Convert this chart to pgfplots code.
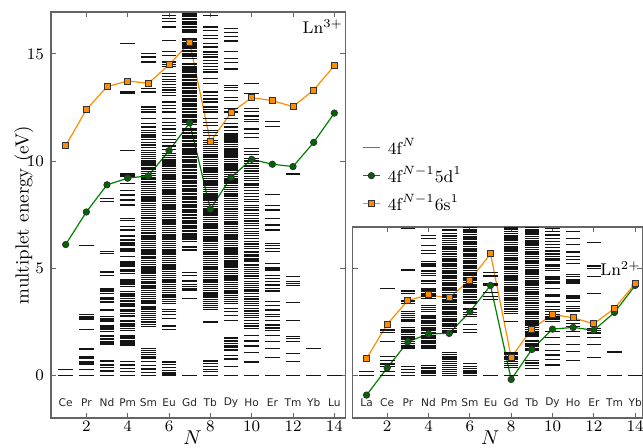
\documentclass[border=0pt]{standalone}
\usepackage{pgfplots}
\pgfplotsset{compat=1.18}
\usepackage{fontspec}
\newfontfamily\dejavu{DejaVu Sans}
\definecolor{lnorange}{RGB}{255,140,0}
\definecolor{lngreen}{RGB}{0,128,0}
\definecolor{lngreenf}{RGB}{0,100,0}
\definecolor{framegray}{RGB}{100,100,100}
\pgfplotsset{
  lev/.style={only marks, mark=-, mark size=3.65pt, mark options={line width=0.62pt, draw=black!92}, forget plot},
  dd/.style={lngreen, line width=0.6pt, mark=*, mark size=1.6pt, mark options={fill=lngreenf, draw=black!80, line width=0.4pt}},
  ss/.style={lnorange, line width=0.6pt, mark=square*, mark size=1.5pt, mark options={fill=lnorange, draw=black!80, line width=0.4pt}},
  base/.style={scale only axis, axis line style={framegray, line width=0.6pt}, tick style={framegray, line width=0.5pt},
    tick align=inside, major tick length=2.5pt, ymin=-2, xtick={2,4,...,14},
    ticklabel style={font=\fontsize{8}{9}\selectfont}, xticklabel style={yshift=1.8pt}, xlabel={$N$},
    xlabel style={font=\fontsize{10}{11}\selectfont, anchor=center}}
}
\newcommand{\lev}[2]{\addplot[lev] table[x expr=#1, y index=0, header=false, row sep=\\]{#2};}
\newcommand{\el}[2]{\node[font=\dejavu\fontsize{5.3}{6}\selectfont, text=black!85] at (axis cs:#1,-1.3) {#2};}
\begin{document}
\begin{tikzpicture}
\useasboundingbox (0,0) rectangle (321.5pt,224pt);
\begin{axis}[base, at={(25.5pt,15pt)}, anchor=south west, width=147.15pt, height=203pt,
  xmin=0.29, xmax=14.53, ymax=16.96, ytick={0,5,10,15},
  ylabel={multiplet energy (eV)},
  ylabel style={at={(rel axis cs:-0.092,0.5)}, anchor=center, font=\fontsize{9.5}{11}\selectfont},
  xlabel style={at={(rel axis cs:0.481,-0.049)}},
  legend style={at={(rel axis cs:1.056,0.70)}, anchor=north west, draw=none, fill=none,
    font=\fontsize{8.6}{9.5}\selectfont, row sep=0.6pt, column sep=1.6pt, cells={anchor=west}, inner sep=0pt},
  legend image code/.code={\draw[mark repeat=2,mark phase=2,#1] plot coordinates {(0pt,0pt) (4.2pt,0pt) (8.4pt,0pt)};}
]
\addlegendimage{black!55, line width=0.8pt}
\addlegendentry{4f$^{N}$}
\lev{1}{0\\0.28\\}
\lev{2}{0\\0.27\\0.52\\0.62\\0.80\\0.88\\1.22\\2.12\\2.60\\2.66\\2.72\\2.83\\6.05\\}
\lev{3}{0\\0.2\\0.37\\0.48\\0.66\\1.42\\1.5\\1.58\\1.65\\1.72\\1.8\\1.86\\2.05\\2.12\\2.2\\2.3\\2.5\\2.58\\2.66\\2.75\\3.04\\3.38\\3.45\\3.52\\3.6\\3.82\\3.9\\3.98\\4.06\\4.67\\4.78\\4.85\\5.69\\5.79\\8.1\\8.25\\}
\lev{4}{0\\0.16\\0.31\\0.47\\0.65\\1.40\\1.46\\1.52\\1.58\\1.63\\1.70\\1.76\\1.82\\1.87\\2.10\\2.18\\2.26\\2.34\\2.42\\2.50\\2.57\\2.73\\2.80\\2.88\\2.96\\3.04\\3.20\\3.28\\3.36\\3.44\\3.50\\3.58\\3.66\\3.74\\3.82\\3.89\\4.13\\4.22\\4.30\\4.38\\4.44\\4.75\\4.85\\4.91\\5.06\\5.14\\5.22\\5.29\\5.53\\5.76\\5.84\\5.92\\6.04\\6.12\\6.20\\6.31\\6.47\\6.54\\6.78\\6.93\\7.24\\7.32\\7.95\\8.18\\8.41\\8.62\\8.96\\9.27\\9.35\\9.43\\10.48\\13.18\\13.25\\15.48\\}
\lev{5}{0\\0.13\\0.29\\0.45\\0.63\\0.8\\0.87\\0.95\\1.05\\1.15\\1.25\\2.27\\2.36\\2.45\\2.52\\2.61\\2.70\\2.78\\2.88\\2.97\\3.05\\3.14\\3.22\\3.33\\3.42\\3.50\\3.58\\3.68\\3.77\\3.86\\3.94\\4.03\\4.12\\4.20\\4.30\\4.38\\4.47\\4.55\\4.64\\4.74\\4.82\\4.91\\5.00\\5.08\\5.18\\5.27\\5.35\\5.44\\5.52\\5.62\\5.71\\5.80\\5.88\\5.97\\6.06\\6.15\\6.24\\6.33\\6.41\\6.50\\6.60\\6.68\\6.77\\6.86\\6.94\\7.03\\7.12\\7.21\\7.30\\7.38\\7.47\\7.56\\7.66\\7.74\\7.83\\7.92\\8.00\\8.10\\8.18\\8.27\\8.36\\8.45\\8.53\\8.62\\8.72\\8.80\\8.89\\8.98\\9.06\\9.16\\9.24\\9.33\\9.42\\9.51\\9.60\\9.68\\9.78\\9.86\\9.95\\10.04\\10.12\\10.22\\10.30\\10.40\\10.50\\10.62\\10.75\\10.88\\11.00\\11.12\\11.22\\11.32\\11.43\\11.59\\11.74\\11.98\\12.29\\12.40\\12.52\\13.22\\13.38\\14.63\\14.86\\15.02\\}
\lev{6}{0\\0.05\\0.12\\0.23\\0.36\\0.49\\0.62\\2.14\\2.30\\2.65\\2.82\\2.96\\3.05\\3.35\\3.44\\3.52\\3.61\\3.70\\3.78\\3.87\\3.96\\4.05\\4.14\\4.22\\4.31\\4.40\\4.48\\4.57\\4.66\\4.75\\4.84\\4.92\\5.01\\5.10\\5.18\\5.27\\5.36\\5.45\\5.54\\5.62\\5.71\\5.80\\5.88\\5.97\\6.06\\6.15\\6.24\\6.32\\6.41\\6.50\\6.58\\6.67\\6.76\\6.85\\6.94\\7.02\\7.11\\7.20\\7.28\\7.37\\7.46\\7.55\\7.64\\7.72\\7.81\\7.90\\7.98\\8.07\\8.16\\8.25\\8.34\\8.42\\8.51\\8.60\\8.68\\8.77\\8.86\\8.95\\9.04\\9.12\\9.21\\9.30\\9.38\\9.47\\9.56\\9.65\\9.74\\9.82\\9.91\\10.00\\10.08\\10.17\\10.26\\10.35\\10.55\\10.70\\10.85\\11.0\\11.2\\11.35\\11.5\\11.65\\11.8\\11.98\\12.29\\12.45\\12.6\\12.76\\13.07\\13.2\\13.32\\13.45\\13.58\\13.7\\13.82\\13.95\\14.08\\14.4\\14.52\\14.63\\14.94\\15.1\\15.64\\16.26\\16.5\\16.65\\16.8\\}
\lev{7}{0\\3.57\\3.98\\4.06\\4.15\\4.25\\4.4\\4.67\\4.8\\5.85\\5.98\\6.23\\6.32\\6.40\\6.47\\6.55\\6.62\\6.70\\6.77\\6.85\\6.92\\7.00\\7.07\\7.15\\7.22\\7.30\\7.37\\7.45\\7.52\\7.60\\7.67\\7.75\\7.82\\7.90\\7.97\\8.05\\8.12\\8.20\\8.27\\8.35\\8.42\\8.50\\8.57\\8.65\\8.72\\8.80\\8.87\\8.95\\9.02\\9.10\\9.17\\9.25\\9.32\\9.40\\9.47\\9.55\\9.62\\9.70\\9.77\\9.85\\9.92\\10.00\\10.07\\10.15\\10.22\\10.30\\10.37\\10.45\\10.52\\10.60\\10.67\\10.75\\10.82\\10.90\\10.97\\11.05\\11.12\\11.20\\11.27\\11.35\\11.42\\11.50\\11.72\\11.80\\11.87\\11.95\\12.02\\12.10\\12.17\\12.25\\12.32\\12.40\\12.47\\12.55\\12.62\\12.70\\12.77\\12.85\\12.92\\13.00\\13.07\\13.15\\13.22\\13.30\\13.37\\13.45\\13.52\\13.60\\13.67\\13.75\\13.82\\13.90\\13.97\\14.05\\14.12\\14.20\\14.27\\14.35\\14.42\\14.50\\14.57\\14.80\\14.87\\14.95\\15.02\\15.10\\15.17\\15.25\\15.32\\15.40\\15.47\\15.55\\15.62\\15.70\\16.00\\16.07\\16.15\\16.22\\16.30\\16.37\\16.45\\16.52\\16.60\\16.67\\16.75\\16.82\\16.90\\}
\lev{8}{0\\0.16\\0.28\\0.41\\0.53\\0.66\\2.48\\3.08\\3.16\\3.25\\3.35\\3.44\\3.52\\3.61\\3.70\\3.79\\3.87\\3.96\\4.05\\4.13\\4.22\\4.31\\4.40\\4.48\\4.57\\4.66\\4.74\\4.83\\4.92\\5.00\\5.09\\5.18\\5.27\\5.35\\5.44\\5.53\\5.62\\5.70\\5.79\\5.88\\5.96\\6.05\\6.14\\6.23\\6.31\\6.40\\6.49\\6.57\\6.66\\6.75\\6.84\\6.92\\7.01\\7.10\\7.18\\7.27\\7.36\\7.45\\7.53\\7.62\\7.71\\7.80\\7.88\\7.97\\8.06\\8.14\\8.23\\8.32\\8.41\\8.49\\8.58\\8.67\\8.75\\8.84\\8.93\\9.02\\9.10\\9.19\\9.28\\9.36\\9.45\\9.54\\9.63\\9.71\\9.80\\9.89\\9.97\\10.06\\10.15\\10.24\\10.32\\10.41\\10.50\\10.58\\10.67\\10.76\\10.85\\10.95\\11.2\\11.32\\11.43\\11.67\\11.8\\11.98\\12.29\\12.4\\12.52\\12.76\\12.9\\13.05\\13.22\\13.61\\13.85\\14.16\\14.28\\14.4\\14.55\\14.7\\14.86\\14.98\\15.09\\15.33\\15.48\\15.72\\15.87\\16.1\\16.26\\16.8\\}
\lev{9}{0\\0.42\\0.75\\0.93\\1.17\\1.32\\1.40\\1.48\\1.56\\1.63\\1.74\\2.57\\2.80\\2.96\\3.11\\3.36\\3.45\\3.53\\3.62\\3.71\\3.80\\3.88\\3.97\\4.06\\4.14\\4.23\\4.32\\4.41\\4.49\\4.58\\4.67\\4.75\\4.84\\4.93\\5.02\\5.10\\5.19\\5.28\\5.36\\5.45\\5.54\\5.63\\5.71\\5.80\\5.89\\5.97\\6.06\\6.15\\6.24\\6.32\\6.41\\6.50\\6.58\\6.67\\6.76\\6.85\\6.93\\7.02\\7.11\\7.19\\7.28\\7.37\\7.46\\7.54\\7.63\\7.72\\7.80\\7.89\\7.98\\8.07\\8.15\\8.24\\8.33\\8.41\\8.50\\8.59\\8.68\\8.76\\8.85\\8.94\\9.02\\9.11\\9.20\\9.29\\9.37\\9.46\\9.55\\9.63\\9.72\\9.81\\9.90\\9.98\\10.07\\10.16\\10.24\\10.33\\10.42\\10.51\\10.59\\10.68\\10.77\\10.85\\10.94\\11.03\\11.12\\11.22\\11.30\\11.43\\11.59\\11.75\\11.98\\12.29\\12.44\\12.83\\12.98\\13.3\\13.42\\13.53\\14.3\\14.6\\14.8\\15.1\\15.6\\15.8\\16.0\\16.2\\}
\lev{10}{0\\0.62\\1.06\\1.36\\1.6\\1.87\\2.18\\2.3\\2.41\\2.55\\2.68\\2.78\\2.88\\3.0\\3.11\\3.25\\3.36\\3.45\\3.56\\3.66\\3.8\\3.89\\3.98\\4.08\\4.18\\4.27\\4.36\\4.5\\4.6\\4.67\\4.76\\4.85\\4.94\\5.04\\5.14\\5.3\\5.38\\5.46\\5.54\\5.61\\5.75\\5.92\\6.02\\6.12\\6.23\\6.38\\6.54\\6.63\\6.72\\6.85\\7.0\\7.1\\7.2\\7.32\\7.45\\7.55\\7.71\\7.82\\7.94\\8.1\\8.22\\8.35\\8.49\\8.64\\8.76\\8.88\\8.96\\9.1\\9.19\\9.27\\9.42\\9.54\\9.66\\9.77\\9.89\\10.0\\10.13\\10.3\\10.44\\10.6\\11.1\\11.3\\11.5\\11.83\\11.95\\12.1\\12.3\\12.44\\13.15\\13.63\\}
\lev{11}{0\\0.83\\1.25\\1.56\\1.87\\2.1\\2.2\\2.34\\2.57\\2.73\\2.85\\3.04\\3.27\\3.43\\3.89\\3.97\\4.05\\4.21\\4.36\\4.52\\4.67\\4.91\\5.01\\5.22\\5.76\\5.92\\6.07\\6.15\\6.78\\7.01\\7.32\\7.71\\7.94\\8.44\\11.6\\11.85\\}
\lev{12}{0\\0.63\\1.02\\1.56\\1.72\\1.8\\2.57\\3.38\\4.18\\4.29\\4.36\\4.6\\9.39\\}
\lev{13}{0\\1.26\\}
\lev{14}{0\\}
\addplot[dd] coordinates {(1,6.1)(2,7.62)(3,8.89)(4,9.2)(5,9.31)(6,10.48)(7,11.78)(8,7.76)(9,9.24)(10,10.08)(11,9.85)(12,9.74)(13,10.87)(14,12.24)};
\addlegendentry{4f$^{N-1}$5d$^1$}
\addplot[ss] coordinates {(1,10.72)(2,12.40)(3,13.47)(4,13.74)(5,13.63)(6,14.5)(7,15.53)(8,10.9)(9,12.26)(10,12.96)(11,12.82)(12,12.54)(13,13.32)(14,14.45)};
\addlegendentry{4f$^{N-1}$6s$^1$}
\el{1}{Ce}\el{2}{Pr}\el{3}{Nd}\el{4}{Pm}\el{5}{Sm}\el{6}{Eu}\el{7}{Gd}
\el{8}{Tb}\el{9}{Dy}\el{10}{Ho}\el{11}{Er}\el{12}{Tm}\el{13}{Yb}\el{14}{Lu}
\node[anchor=north east, font=\fontsize{8.5}{10}\selectfont, inner sep=0pt] at (rel axis cs:0.993,0.982) {Ln$^{3+}$};
\end{axis}
\begin{axis}[base, at={(176.35pt,15pt)}, anchor=south west, width=144.85pt, height=95.5pt,
  xmin=0.33, xmax=14.35, ymax=6.92, ytick={0,5}, yticklabels={},
  xlabel style={at={(rel axis cs:0.475,-0.104)}}]
\lev{1}{0\\0.18\\}
\lev{2}{0\\0.18\\0.39\\0.52\\0.7\\0.88\\1.58\\1.98\\2.08\\2.15\\4.05\\}
\lev{3}{0\\0.12\\0.27\\0.4\\1.25\\1.32\\1.4\\1.48\\1.56\\1.66\\1.74\\1.82\\1.9\\1.98\\2.06\\2.14\\2.22\\2.5\\2.58\\2.7\\2.78\\2.88\\2.96\\3.35\\3.43\\3.5\\3.82\\3.9\\3.97\\4.88\\4.94\\6.85\\}
\lev{4}{0\\0.1\\0.2\\0.33\\0.44\\1.25\\1.32\\1.4\\1.47\\1.55\\1.62\\1.7\\1.78\\1.85\\1.93\\2.0\\2.08\\2.16\\2.24\\2.32\\2.4\\2.48\\2.56\\2.64\\2.72\\2.8\\2.96\\3.06\\3.16\\3.27\\3.58\\3.66\\3.74\\3.82\\3.9\\3.98\\4.05\\4.28\\4.36\\4.43\\4.67\\4.75\\4.83\\4.9\\5.07\\5.15\\5.22\\5.3\\5.68\\5.84\\6.07\\6.39\\6.54\\}
\lev{5}{0\\0.08\\0.16\\0.25\\0.35\\0.45\\0.55\\0.65\\0.75\\0.85\\0.95\\1.05\\2.02\\2.1\\2.18\\2.26\\2.34\\2.42\\2.5\\2.58\\2.66\\2.74\\2.82\\2.9\\2.98\\3.06\\3.14\\3.22\\3.3\\3.38\\3.46\\3.54\\3.62\\3.7\\3.78\\3.86\\3.94\\4.02\\4.1\\4.18\\4.26\\4.34\\4.42\\4.5\\4.58\\4.66\\4.74\\4.82\\4.9\\4.98\\5.06\\5.14\\5.22\\5.3\\5.38\\5.46\\5.54\\5.62\\5.7\\5.78\\5.86\\5.94\\6.02\\6.1\\6.2\\6.3\\6.4\\6.5\\6.62\\6.78\\}
\lev{6}{0\\0.1\\0.2\\0.3\\0.42\\0.54\\1.98\\2.14\\2.36\\2.74\\2.84\\2.94\\3.06\\3.13\\3.37\\3.45\\3.53\\3.61\\3.69\\3.77\\3.85\\3.93\\4.01\\4.09\\4.17\\4.25\\4.33\\4.41\\4.49\\4.57\\4.65\\4.73\\4.81\\4.89\\4.97\\5.05\\5.13\\5.21\\5.29\\5.37\\5.45\\5.53\\5.61\\5.69\\5.77\\5.85\\5.93\\6.01\\6.09\\6.17\\6.25\\6.33\\6.41\\6.49\\6.57\\6.65\\6.73\\6.81\\6.89\\}
\lev{7}{0\\3.54\\3.66\\3.85\\4.21\\4.28\\4.63\\4.78\\}
\lev{8}{0\\0.35\\0.45\\0.55\\0.65\\0.75\\0.85\\0.95\\1.03\\2.49\\2.88\\2.96\\3.05\\3.13\\3.22\\3.30\\3.39\\3.47\\3.56\\3.64\\3.73\\3.81\\3.90\\3.98\\4.07\\4.15\\4.24\\4.32\\4.41\\4.49\\4.58\\4.66\\4.75\\4.83\\4.92\\5.00\\5.09\\5.17\\5.26\\5.34\\5.43\\5.51\\5.60\\5.68\\5.77\\5.85\\5.94\\6.02\\6.11\\6.19\\6.28\\6.36\\6.45\\6.53\\6.62\\6.70\\6.79\\6.87\\}
\lev{9}{0\\0.31\\0.46\\0.57\\0.7\\1.17\\1.25\\1.33\\1.41\\1.49\\1.56\\1.63\\1.80\\1.88\\1.97\\2.05\\2.14\\2.22\\2.31\\2.39\\2.48\\2.56\\2.65\\2.73\\2.82\\2.90\\2.99\\3.07\\3.16\\3.24\\3.33\\3.41\\3.50\\3.58\\3.67\\3.75\\3.84\\3.92\\4.01\\4.09\\4.18\\4.26\\4.35\\4.43\\4.52\\4.60\\4.69\\4.77\\4.86\\4.94\\5.03\\5.11\\5.20\\5.28\\5.37\\5.45\\5.54\\5.62\\5.71\\5.79\\5.88\\5.96\\6.05\\6.13\\6.22\\6.30\\6.39\\6.47\\6.56\\6.64\\6.73\\6.81\\6.89\\}
\lev{10}{0\\0.47\\0.72\\0.94\\1.15\\1.45\\1.76\\2.05\\2.5\\2.62\\2.72\\2.82\\2.96\\3.08\\3.2\\3.42\\3.66\\3.74\\4.05\\4.3\\4.38\\4.46\\4.54\\4.6\\4.9\\4.98\\5.06\\5.14\\5.38\\5.46\\5.54\\5.62\\5.7\\5.78\\5.84\\5.95\\6.1\\6.25\\6.4\\6.55\\6.7\\6.85\\}
\lev{11}{0\\0.68\\1.1\\1.42\\1.82\\2.05\\2.28\\2.4\\2.55\\3.0\\3.1\\3.2\\3.45\\3.6\\3.7\\4.3\\4.38\\4.45\\4.62\\4.7\\5.23\\5.4\\5.55\\5.75\\6.1\\6.4\\6.7\\}
\lev{12}{0\\0.84\\1.42\\1.75\\1.97\\2.1\\2.18\\3.8\\4.62\\4.98\\5.1\\6.2\\}
\lev{13}{0\\1.08\\}
\lev{14}{0\\}
\addplot[dd] coordinates {(1,-0.93)(2,0.34)(3,1.56)(4,1.93)(5,1.95)(6,2.96)(7,4.19)(8,-0.2)(9,1.2)(10,2.15)(11,2.23)(12,2.1)(13,2.93)(14,4.19)};
\addplot[ss] coordinates {(1,0.78)(2,2.38)(3,3.49)(4,3.75)(5,3.61)(6,4.44)(7,5.67)(8,0.83)(9,2.16)(10,2.84)(11,2.68)(12,2.4)(13,3.12)(14,4.28)};
\el{1}{La}\el{2}{Ce}\el{3}{Pr}\el{4}{Nd}\el{5}{Pm}\el{6}{Sm}\el{7}{Eu}
\el{8}{Gd}\el{9}{Tb}\el{10}{Dy}\el{11}{Ho}\el{12}{Er}\el{13}{Tm}\el{14}{Yb}
\node[anchor=north east, font=\fontsize{8.5}{10}\selectfont, inner sep=0pt] at (rel axis cs:0.995,0.82) {Ln$^{2+}$};
\end{axis}
\end{tikzpicture}
\end{document}
